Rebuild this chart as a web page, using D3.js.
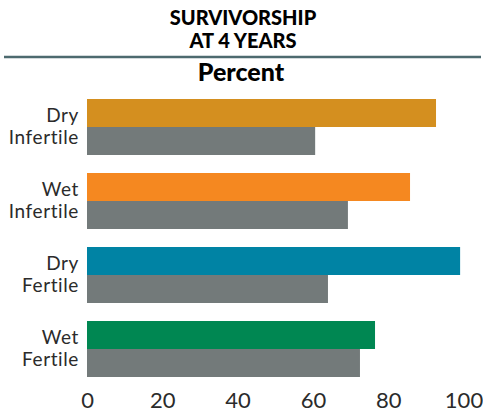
<!DOCTYPE html>
<html>
<head>
<meta charset="utf-8">
<script src="https://cdn.jsdelivr.net/npm/d3@7"></script>
<style>
  body { margin: 0; background: #fff; }
  svg { display: block; font-family: Lato, "Open Sans", sans-serif; }
</style>
</head>
<body>
<script>
// categories and values
var groups = ["Dry Infertile", "Wet Infertile", "Dry Fertile", "Wet Fertile"];
var labelLines = [["Dry", "Infertile"], ["Wet", "Infertile"], ["Dry", "Fertile"], ["Wet", "Fertile"]];
var topValues = [92.7, 85.8, 99.1, 76.5];
var grayValues = [60.6, 69.3, 64.0, 72.5];
var topColors = ["#d48f1f", "#f58820", "#0083a4", "#008752"];
var ticks = [0, 20, 40, 60, 80, 100];

var W = 483, H = 412;
var margin = {top: 99, left: 87};
var step = 74, bh = 28;

var svg = d3.select("body").append("svg")
    .attr("width", W)
    .attr("height", H);

// title
svg.append("text")
    .attr("x", 243).attr("y", 25)
    .attr("text-anchor", "middle")
    .style("font-size", "20px").style("font-weight", "900")
    .text("SURVIVORSHIP");
svg.append("text")
    .attr("x", 243).attr("y", 48)
    .attr("text-anchor", "middle")
    .style("font-size", "20px").style("font-weight", "900")
    .text("AT 4 YEARS");
svg.append("line")
    .attr("x1", 4).attr("x2", 481)
    .attr("y1", 57).attr("y2", 57)
    .attr("stroke", "#4d6a6f").attr("stroke-width", 2.5);
svg.append("text")
    .attr("x", 241).attr("y", 81)
    .attr("text-anchor", "middle")
    .style("font-size", "25px").style("font-weight", "900")
    .text("Percent");

// scales
var x = d3.scaleLinear().domain([0, 100]).range([0, 376.5]);
var y = d3.scaleBand().domain(groups).range([0, step * groups.length]);

var g = svg.append("g")
    .attr("transform", "translate(" + margin.left + "," + margin.top + ")");

groups.forEach(function(name, i) {
  var y0 = y(name);
  g.append("rect")
      .attr("x", x(0)).attr("y", y0)
      .attr("width", x(topValues[i]) - x(0)).attr("height", bh)
      .attr("fill", topColors[i]);
  g.append("rect")
      .attr("x", x(0)).attr("y", y0 + bh)
      .attr("width", x(grayValues[i]) - x(0)).attr("height", bh)
      .attr("fill", "#737a7a");
  var t = g.append("text")
      .attr("x", -8).attr("y", y0 + bh - 5)
      .attr("text-anchor", "end")
      .style("font-size", "19px").style("letter-spacing", "0.6px")
      .attr("fill", "#2b2b2b");
  labelLines[i].forEach(function(l, k) {
    t.append("tspan").attr("x", -8).attr("dy", k === 0 ? 0 : 22).text(l);
  });
});

// x axis
var axis = g.append("g")
    .attr("transform", "translate(0," + 292 + ")")
    .call(d3.axisBottom(x).tickValues(ticks).tickSize(0).tickPadding(0));
axis.select(".domain").remove();
axis.selectAll("text")
    .attr("dy", "0")
    .attr("y", 17)
    .style("font-size", "22px")
    .style("font-family", "Lato, sans-serif")
    .attr("fill", "#2b2b2b");
</script>
</body>
</html>
